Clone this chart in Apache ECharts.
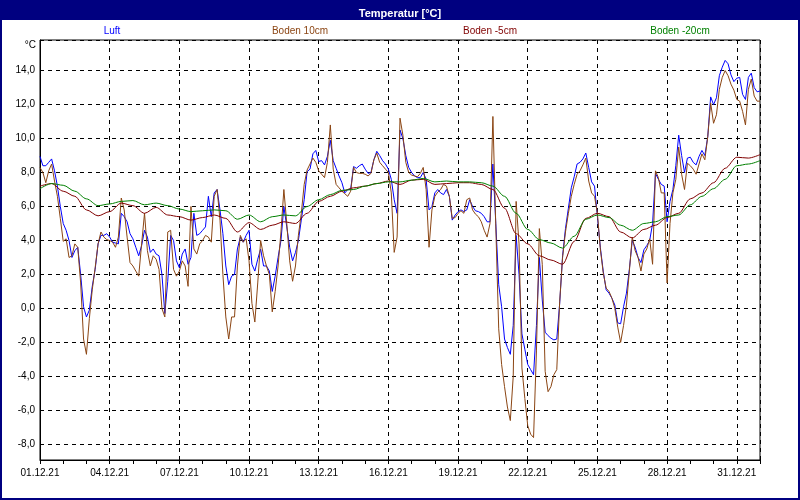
<!DOCTYPE html>
<html><head><meta charset="utf-8">
<script src="https://cdn.jsdelivr.net/npm/echarts@6/dist/echarts.min.js"></script>
<style>html,body{margin:0;padding:0;background:#fff}#c{width:800px;height:500px}</style>
</head><body><div id="c"></div>
<script>
// ---- data ----
const titleText = 'Temperatur [°C]';
const unitText = '°C';
const seriesNames = ['Luft', 'Boden 10cm', 'Boden -5cm', 'Boden -20cm'];
const seriesColors = ['#0000FF', '#8B4513', '#800000', '#008000'];
const dateLabels = ['01.12.21','04.12.21','07.12.21','10.12.21','13.12.21','16.12.21',
  '19.12.21','22.12.21','25.12.21','28.12.21','31.12.21'];
const airStepDays = 0.125;   // 3-hour values
const soilStepDays = 0.5;    // 12-hour values
const totalDays = 31;

const luft = [
  8.95, 8.4, 8.4, 8.6, 8.8, 8.1, 7.2, 6.0,
  5.0, 4.6, 4.0, 3.0, 3.4, 3.6, 2.0, 0.1,
  -0.5, -0.1, 1.3, 2.3, 3.8, 4.3, 4.3, 4.4,
  4.2, 3.9, 3.85, 3.8, 5.6, 5.4, 5.1, 4.4,
  4.1, 3.6, 3.1, 3.7, 4.6, 4.2, 3.3, 3.5,
  3.2, 3.1, 2.0, -0.3, 1.6, 4.3, 4.0, 2.8,
  2.4, 3.2, 3.5, 2.6, 3.0, 5.6, 4.3, 4.4,
  4.6, 4.8, 6.6, 5.4, 6.8, 7.0, 5.8, 4.4,
  2.5, 1.4, 1.9, 2.0, 3.5, 4.2, 3.9, 4.3,
  4.6, 2.6, 2.2, 2.9, 3.5, 2.5, 2.5, 2.2,
  1.0, 1.9, 3.0, 4.0, 6.0, 4.8, 3.6, 2.8,
  3.3, 4.0, 5.2, 6.4, 8.05, 8.2, 9.1, 9.3,
  8.65, 8.7, 8.45, 8.95, 9.9, 8.7, 8.25, 7.8,
  7.4, 6.8, 7.0, 7.0, 8.35, 8.25, 8.4, 8.5,
  8.2, 7.95, 8.0, 8.75, 9.25, 9.0, 8.7, 8.5,
  8.2, 7.6, 6.4, 5.6, 10.5, 10.0, 9.0, 8.3,
  8.0, 7.8, 7.7, 7.7, 8.0, 7.6, 5.8, 6.0,
  6.8, 7.0, 6.8, 6.7, 7.0, 6.6, 5.2, 5.5,
  5.7, 5.8, 5.7, 5.8, 6.4, 6.0, 5.75, 5.7,
  5.6, 5.4, 5.1, 5.1, 8.5, 5.0, 1.4, 0.1,
  -1.8, -2.3, -2.7, -1.0, 4.3, 2.0, -1.5, -2.4,
  -3.3, -3.6, -3.9, -1.0, 3.0, 0.5, -1.4, -1.6,
  -1.75, -1.85, -1.8, 0.3, 3.1, 4.7, 5.9, 7.1,
  7.75, 8.5, 8.6, 8.8, 9.15, 8.3, 7.45, 7.2,
  5.4, 3.6, 2.2, 1.1, 0.9, 0.6, 0.2, -0.85,
  -0.9, 0.1, 0.9, 2.3, 4.0, 3.6, 3.0, 2.7,
  3.45, 3.7, 4.0, 5.0, 7.95, 7.6, 7.3, 7.2,
  5.1, 6.3, 7.0, 8.4, 10.2, 9.0, 8.0, 8.85,
  8.9, 8.6, 8.45, 8.95, 9.3, 9.0, 10.1, 12.45,
  12.0, 12.4, 13.7, 14.2, 14.6, 14.4, 13.75, 13.35,
  13.55, 13.6, 12.6, 12.3, 13.6, 13.85, 13.0, 12.75, 12.8
];

const boden10 = [
  8.3, 8.0, 7.4, 8.1, 8.5, 7.5, 6.6, 5.3,
  3.95, 4.1, 3.0, 3.1, 3.8, 3.6, 1.5, -1.8,
  -2.7, -0.6, 1.1, 2.4, 3.8, 4.5, 4.2, 4.05,
  4.0, 3.9, 3.6, 4.2, 6.5, 5.8, 4.2, 2.7,
  2.5, 2.2, 1.9, 3.8, 5.6, 3.4, 2.5, 3.1,
  2.9, 2.3, 0.0, -0.5, 4.5, 4.6, 2.3, 1.9,
  2.2, 2.8, 2.5, 1.3, 6.0, 3.5, 3.2, 3.8,
  4.0, 4.3, 4.2, 3.9, 6.6, 7.0, 5.2, 2.0,
  -0.5, -1.8, -0.5, -0.5, 2.5, 4.3, 3.9, 4.1,
  2.8, 0.3, -0.8, 1.5, 4.0, 3.1, 2.5, 2.0,
  -0.2, 1.0, 2.5, 4.5, 7.0, 5.0, 2.8, 1.6,
  2.5, 4.3, 5.6, 7.3, 8.15, 8.5, 8.85, 8.6,
  8.1, 7.9, 7.7, 8.6, 10.8, 8.2, 7.3, 7.1,
  6.9, 6.75, 6.6, 6.9, 8.3, 8.0, 7.95, 7.95,
  7.9, 7.8, 7.95, 8.75, 9.15, 8.6, 8.4, 8.2,
  8.0, 6.8, 3.3, 4.2, 11.2, 10.2, 8.6, 8.0,
  7.85, 7.8, 7.75, 7.95, 8.3, 7.0, 3.6, 5.8,
  6.6, 6.85, 7.0, 7.3, 7.2, 6.6, 5.3, 5.35,
  5.6, 5.75, 5.6, 6.4, 6.5, 5.8, 5.55, 5.4,
  5.1, 4.6, 4.2, 5.0, 11.3, 4.8, -1.2, -3.3,
  -4.6, -5.8, -6.6, -4.0, 6.3, 3.8, -3.5, -5.3,
  -6.9, -7.4, -7.6, -2.5, 4.7, 2.6, -3.7, -4.9,
  -4.6, -3.9, -3.6, 0.4, 3.0, 4.5, 5.6, 6.6,
  7.3, 7.9, 8.1, 8.45, 8.85, 7.5, 6.8, 6.6,
  5.6, 3.5, 2.1, 1.2, 1.0, 0.6, 0.0, -1.1,
  -2.0, -1.0, 0.2, 2.2, 4.2, 3.4, 3.0, 2.2,
  3.2, 3.5, 4.1, 2.6, 8.1, 7.7, 6.8, 6.8,
  1.5, 5.0, 6.8, 7.6, 9.5, 7.9, 7.0, 8.55,
  8.4, 8.2, 7.9, 8.5, 9.1, 8.75, 10.1, 12.1,
  10.9, 11.4, 12.9, 13.6, 14.0, 13.7, 13.2, 12.85,
  12.3, 12.2, 11.6, 10.8, 12.9, 13.5, 12.5, 12.2, 12.2
];

const boden5 = [
  7.2, 7.35, 6.9, 6.6, 5.8, 5.45, 5.7, 6.2, 6.05, 5.6,
  5.95, 5.5, 5.4, 5.2, 5.35, 5.5, 5.3, 4.5, 5.05, 4.65,
  4.9, 5.1, 5.0, 5.6, 6.3, 6.6, 6.9, 7.1, 7.2, 7.35,
  7.5, 7.3, 7.55, 7.6, 7.3, 7.35, 7.4, 7.4, 7.3, 7.0,
  5.9, 4.4, 3.8, 3.1, 2.85, 2.6, 3.95, 5.3, 5.6, 5.4,
  4.5, 4.15, 4.65, 4.9, 5.35, 5.6, 6.45, 6.8, 7.4, 8.25,
  8.9, 8.85, 9.05
];

const boden20 = [
  7.05, 7.35, 7.25, 6.9, 6.45, 6.05, 6.15, 6.3, 6.35, 6.1,
  6.2, 6.05, 5.85, 5.7, 5.75, 5.8, 5.75, 5.25, 5.5, 5.1,
  5.4, 5.5, 5.45, 6.0, 6.4, 6.7, 6.95, 7.0, 7.2, 7.35,
  7.45, 7.45, 7.55, 7.65, 7.45, 7.5, 7.45, 7.45, 7.4, 7.2,
  6.6, 5.6, 4.65, 4.05, 3.85, 3.55, 4.25, 5.25, 5.5, 5.35,
  4.9, 4.6, 5.0, 5.1, 5.4, 5.5, 6.1, 6.6, 7.05, 7.6,
  8.4, 8.5, 8.7
];

// ---- chart ----
const FONT = '"Liberation Sans", Arial, sans-serif';
function pairs(arr, step) { return arr.map((v, i) => [i * step, v]); }
function fmtY(v) { return v.toFixed(1).replace('.', ','); }

const seriesData = [
  pairs(luft, airStepDays),
  pairs(boden10, airStepDays),
  pairs(boden5, soilStepDays),
  pairs(boden20, soilStepDays)
];

const legendCenters = [112, 300, 490, 680];

const chart = echarts.init(document.getElementById('c'), null, { renderer: 'canvas' });
chart.setOption({
  animation: false,
  backgroundColor: '#ffffff',
  title: {
    text: titleText, left: 'center', top: 3,
    textStyle: { color: '#ffffff', fontSize: 11, fontWeight: 'bold', fontFamily: FONT }
  },
  grid: {
    left: 40, right: 40, top: 40, bottom: 40,
    show: true, borderColor: '#000', borderWidth: 1, backgroundColor: 'transparent'
  },
  xAxis: [
    {
      type: 'value', min: 0, max: totalDays, interval: 3,
      axisLine: { show: true, onZero: false, lineStyle: { color: '#000', width: 1 } },
      axisTick: { show: false },
      axisLabel: {
        color: '#000', fontSize: 10, fontFamily: FONT, margin: 8,
        showMaxLabel: false,
        formatter: v => (v % 3 === 0 && v / 3 < dateLabels.length) ? dateLabels[v / 3] : ''
      },
      splitLine: { show: true, lineStyle: { color: '#000', width: 1, type: [4, 4] } }
    },
    {
      type: 'value', min: 0, max: totalDays, interval: 1, position: 'bottom',
      axisLine: { show: false, onZero: false },
      axisTick: { show: true, length: 4, lineStyle: { color: '#000', width: 1 } },
      axisLabel: { show: false },
      splitLine: { show: false }
    }
  ],
  yAxis: {
    type: 'value', min: -8.92, max: 15.8, minInterval: 2, maxInterval: 2, splitNumber: 12,
    axisLine: { show: true, onZero: false, lineStyle: { color: '#000', width: 1 } },
    axisTick: { show: false },
    axisLabel: {
      color: '#000', fontSize: 10, fontFamily: FONT, margin: 5,
      showMinLabel: false, showMaxLabel: false,
      formatter: fmtY
    },
    splitLine: { show: true, lineStyle: { color: '#000', width: 1, type: [4, 4] } }
  },
  graphic: [
    { type: 'rect', z: -10, shape: { x: 0, y: 0, width: 800, height: 20 }, style: { fill: '#000080' } },
    { type: 'rect', z: 100, shape: { x: 1, y: 1, width: 798, height: 498 }, style: { fill: 'none', stroke: '#000080', lineWidth: 2 } },
    { type: 'text', x: 36, y: 45, style: { text: unitText, align: 'right', verticalAlign: 'middle', fill: '#000', font: '10px ' + FONT } }
  ].concat(seriesNames.map((n, i) => ({
    type: 'text', x: legendCenters[i], y: 31,
    style: { text: n, align: 'center', verticalAlign: 'middle', fill: seriesColors[i], font: '10px ' + FONT }
  }))),
  series: seriesNames.map((n, i) => ({
    name: n, type: 'line', xAxisIndex: 0, yAxisIndex: 0,
    data: seriesData[i], showSymbol: false, symbol: 'none',
    smooth: i >= 2 ? 0.3 : false, smoothMonotone: i >= 2 ? 'x' : undefined,
    lineStyle: { color: seriesColors[i], width: 1 },
    itemStyle: { color: seriesColors[i] },
    z: 2 + i
  }))
});
</script>
</body></html>
